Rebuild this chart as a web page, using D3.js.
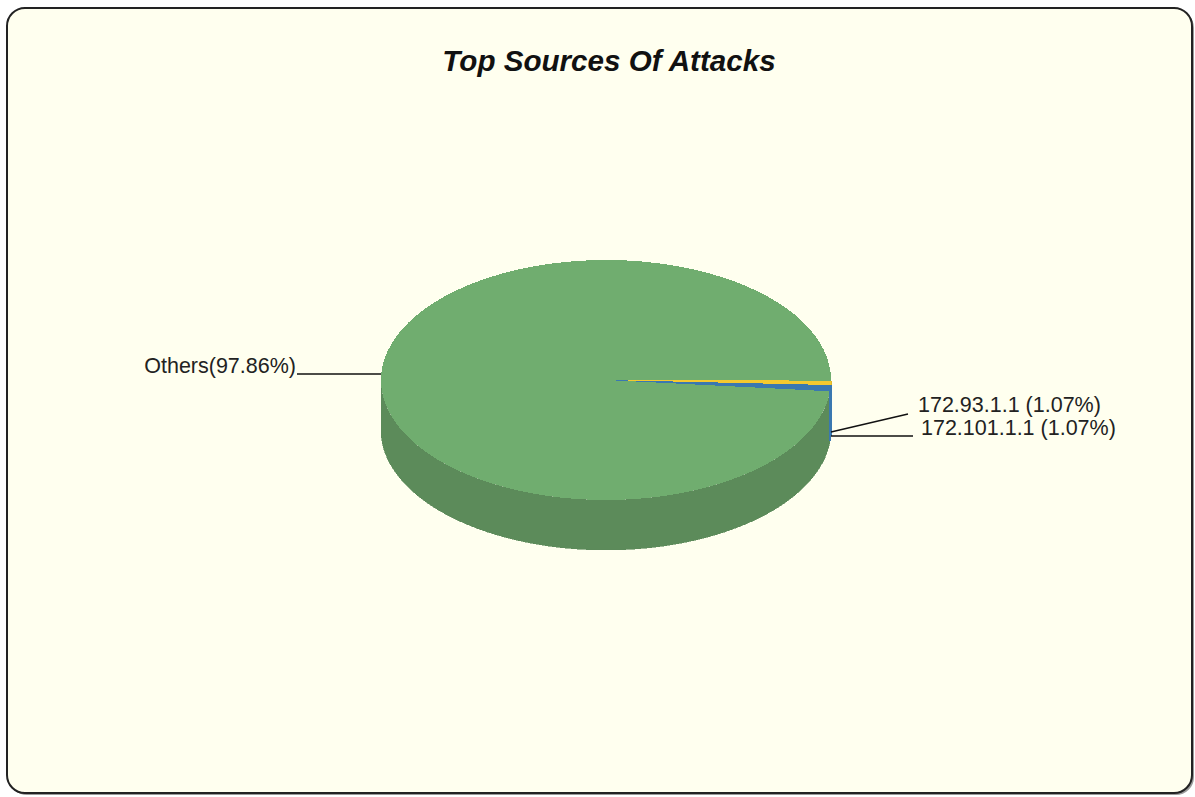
<!DOCTYPE html>
<html>
<head>
<meta charset="utf-8">
<title>Top Sources Of Attacks</title>
<script src="https://cdn.jsdelivr.net/npm/d3@7"></script>
<style>
  html, body { margin: 0; padding: 0; background: #fff; }
  svg { display: block; }
  text { font-family: "Liberation Sans", Arial, sans-serif; fill: #222; }
</style>
</head>
<body>
<script>
/** Chart data */
const title = "Top Sources Of Attacks";
const sources = ["172.93.1.1", "172.101.1.1", "Others"];
const shares = [1.07, 1.07, 97.86];
const labels = ["172.93.1.1 (1.07%)", "172.101.1.1 (1.07%)", "Others(97.86%)"];

/** Layout */
const width = 1195;
const height = 797;
const cx = 606;
const cy = 380;
const rx = 225;
const ry = 120;
const depth = 50;
const colors = ["#f4c92f", "#3a78b0", "#70ad6f"];
const sideColors = ["#e0b82a", "#3a78b0", "#5c8b5a"];
const drawOrder = [2, 0, 1];
const rad = Math.PI / 180;

// label anchor and leader line per slice: [textX, textY, anchor, x1, y1, x2, y2]
const callouts = [
    [918, 412, "start", 831, 432, 908, 414],
    [921, 435, "start", 831, 436, 913, 436],
    [296, 373, "end", 297, 374, 381, 374]
];

const svg = d3.select("body").append("svg")
    .attr("width", width)
    .attr("height", height);

// chart frame with its shadow
svg.append("rect")
    .attr("x", 9).attr("y", 10)
    .attr("width", 1185).attr("height", 785)
    .attr("rx", 18)
    .attr("fill", "#9a9a9a");
svg.append("rect")
    .attr("x", 7).attr("y", 8)
    .attr("width", 1185).attr("height", 785)
    .attr("rx", 18)
    .attr("fill", "#ffffef")
    .attr("stroke", "#222")
    .attr("stroke-width", 2);

svg.append("text")
    .attr("x", 609)
    .attr("y", 71)
    .attr("text-anchor", "middle")
    .style("font-size", "29.6px")
    .style("font-weight", "bold")
    .style("font-style", "italic")
    .style("fill", "#111")
    .text(title);

/**
 * The two small slices show up flatter in the picture than their share would give,
 * so cumulative share goes through a piecewise scale instead of a plain linear one.
 */
const totals = [0, ...d3.cumsum(shares)];
const angle = d3.scaleLinear()
    .domain(totals)
    .range([90.3 * rad, 92.4 * rad, 95.4 * rad, 450.3 * rad]);

const slices = shares.map((s, i) => ({
    startAngle: angle(totals[i]),
    endAngle: angle(totals[i + 1]),
    color: colors[i],
    side: sideColors[i]
}));

// side wall: only the front half of the ellipse can be seen
const wall = d3.area()
    .x(a => cx + rx * Math.sin(a))
    .y0(a => cy - ry * Math.cos(a))
    .y1(a => cy - ry * Math.cos(a) + depth);

const arc = d3.arc().innerRadius(0).outerRadius(rx);

const pieLayer = svg.append("g").attr("shape-rendering", "crispEdges");

// big slice first, the small ones and their thin walls sit on top of it
drawOrder.forEach(i => {
    const d = slices[i];
    const a0 = d.startAngle;
    const a1 = Math.min(d.endAngle, 270 * rad);
    pieLayer.append("path")
        .attr("d", wall(d3.range(a0, a1, 0.2 * rad).concat([a1])))
        .attr("fill", d.side)
        .attr("stroke", d.side)
        .attr("stroke-width", i === 2 ? 0.6 : 1.5);
    pieLayer.append("path")
        .attr("transform", "translate(" + cx + "," + cy + ") scale(1," + (ry / rx) + ")")
        .attr("d", arc(d))
        .attr("fill", d.color);
});

// leader lines and labels
svg.selectAll("line.leader")
    .data(callouts)
    .enter()
    .append("line")
    .attr("class", "leader")
    .attr("x1", d => d[3])
    .attr("y1", d => d[4])
    .attr("x2", d => d[5])
    .attr("y2", d => d[6])
    .attr("stroke", "#111")
    .attr("stroke-width", 1.4);

svg.selectAll("text.label")
    .data(labels)
    .enter()
    .append("text")
    .attr("class", "label")
    .attr("x", (d, i) => callouts[i][0])
    .attr("y", (d, i) => callouts[i][1])
    .attr("text-anchor", (d, i) => callouts[i][2])
    .style("font-size", "21.5px")
    .text(d => d);
</script>
</body>
</html>
